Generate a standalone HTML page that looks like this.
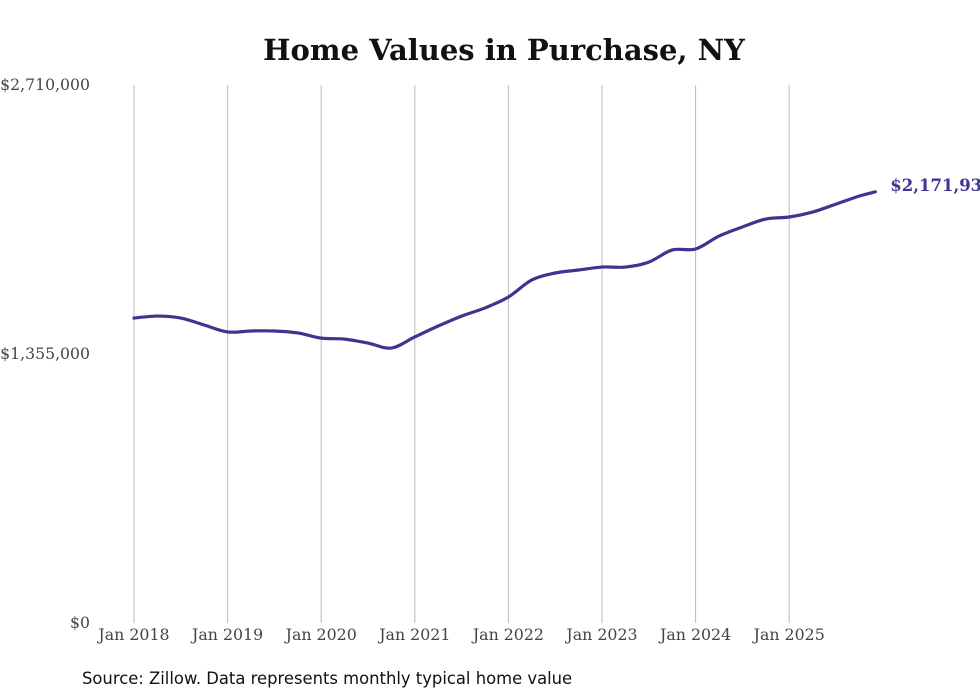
<!DOCTYPE html>
<html><head><meta charset="utf-8"><style>
body{margin:0;background:#fff;width:980px;height:699px;overflow:hidden}
svg{display:block}
</style></head><body>
<svg id="chart" width="980" height="699">
<text x="504" y="60" text-anchor="middle" font-family="DejaVu Serif, serif" font-weight="bold" font-size="29" fill="#111">Home Values in Purchase, NY</text>
<g id="grid"></g>
<g id="yaxis"></g>
<g id="xaxis"></g>
<path id="line" fill="none" stroke="#3d3590" stroke-width="3.2" stroke-linecap="round"></path>
<text id="endlabel" font-family="DejaVu Serif, serif" font-weight="bold" font-size="16.5" fill="#3d3590"></text>
<text x="82" y="684" font-family="DejaVu Sans, sans-serif" font-size="16.4" fill="#111">Source: Zillow. Data represents monthly typical home value</text>
</svg>
<script>
const dates=[2018,2018.25,2018.5,2018.75,2019,2019.25,2019.5,2019.75,2020,2020.25,2020.5,2020.75,2021,2021.25,2021.5,2021.75,2022,2022.25,2022.5,2022.75,2023,2023.25,2023.5,2023.75,2024,2024.25,2024.5,2024.75,2025,2025.25,2025.5,2025.75,2025.92];
const values=[1536000,1546000,1536000,1501000,1466000,1471000,1471000,1461000,1435000,1430000,1410000,1385000,1441000,1496000,1546000,1587000,1642000,1728000,1763000,1778000,1793000,1793000,1818000,1879000,1884000,1949000,1995000,2035000,2045000,2070000,2110000,2151000,2171930];
const yTicks=[0,1355000,2710000];
const yTickLabels=["$0","$1,355,000","$2,710,000"];
const xTicks=[2018,2019,2020,2021,2022,2023,2024,2025];
const xTickLabels=["Jan 2018","Jan 2019","Jan 2020","Jan 2021","Jan 2022","Jan 2023","Jan 2024","Jan 2025"];
const endLabel="$2,171,93";
const NS="http://www.w3.org/2000/svg";
const xs=d=>134+(d-2018)*93.6;
const ys=v=>623-v/2710000*538;
const grid=document.getElementById('grid'),ya=document.getElementById('yaxis'),xa=document.getElementById('xaxis');
xTicks.forEach((t,i)=>{
 const l=document.createElementNS(NS,'line');
 
 
 l.setAttribute('x1',xs(t));l.setAttribute('x2',xs(t));l.setAttribute('y1',85);l.setAttribute('y2',623);
 l.setAttribute('stroke','#bbb');l.setAttribute('stroke-width','1');grid.appendChild(l);
 const tx=document.createElementNS(NS,'text');
 
 
 tx.setAttribute('x',xs(t));tx.setAttribute('y',640);tx.setAttribute('text-anchor','middle');
 tx.setAttribute('font-family','DejaVu Serif, serif');tx.setAttribute('font-size','15.8');tx.setAttribute('fill','#444');
 tx.textContent=xTickLabels[i];xa.appendChild(tx);
});
yTicks.forEach((t,i)=>{
 const tx=document.createElementNS(NS,'text');
 
 
 tx.setAttribute('x',90);tx.setAttribute('y',ys(t)+5);tx.setAttribute('text-anchor','end');
 tx.setAttribute('font-family','DejaVu Serif, serif');tx.setAttribute('font-size','15.7');tx.setAttribute('fill','#444');
 tx.textContent=yTickLabels[i];ya.appendChild(tx);
});
const pts=dates.map((d,i)=>[xs(d),ys(values[i])]);
let p='M'+pts[0][0]+','+pts[0][1];
for(let i=0;i<pts.length-1;i++){
 const p0=pts[Math.max(0,i-1)],p1=pts[i],p2=pts[i+1],p3=pts[Math.min(pts.length-1,i+2)];
 const c1=[p1[0]+(p2[0]-p0[0])/6,p1[1]+(p2[1]-p0[1])/6];
 const c2=[p2[0]-(p3[0]-p1[0])/6,p2[1]-(p3[1]-p1[1])/6];
 p+=' C'+c1[0]+','+c1[1]+' '+c2[0]+','+c2[1]+' '+p2[0]+','+p2[1];
}
document.getElementById('line').setAttribute('d',p);
const last=pts[pts.length-1];
const el=document.getElementById('endlabel');
el.setAttribute('x',last[0]+15);el.setAttribute('y',last[1]-1);el.textContent=endLabel;
</script>
</body></html>
